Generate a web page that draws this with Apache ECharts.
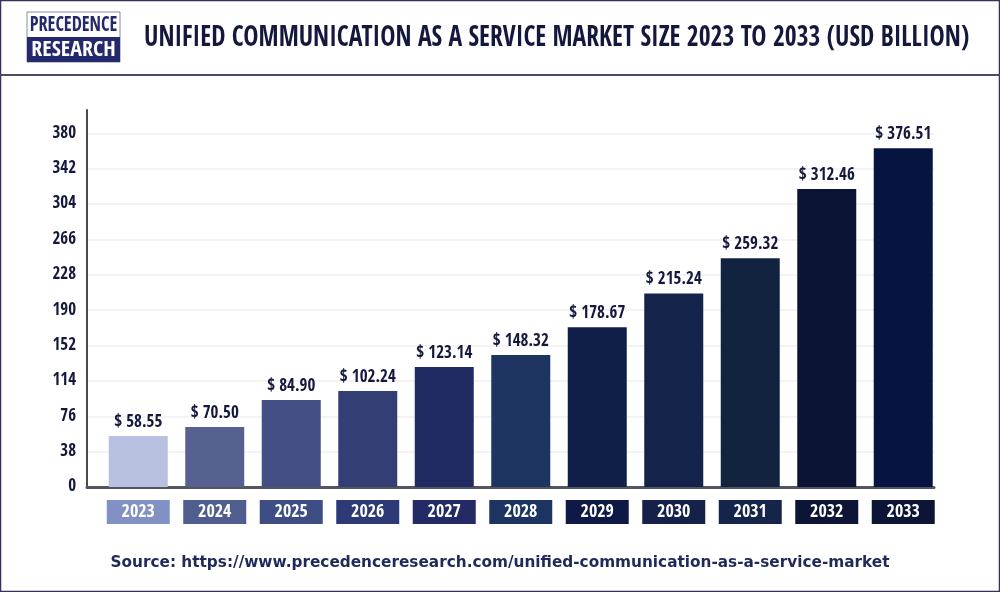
<!DOCTYPE html>
<html>
<head>
<meta charset="utf-8">
<style>html,body{margin:0;padding:0;background:#fff}#main{width:1000px;height:592px}</style>
<script src="https://cdn.jsdelivr.net/npm/echarts@6/dist/echarts.min.js"></script>
</head>
<body>
<div id="main"></div>
<script>
var years = ['2023','2024','2025','2026','2027','2028','2029','2030','2031','2032','2033'];
// bar heights as they sit against the axis in the picture
var barValues = [54.7,64.4,93.4,103,128.8,141.7,171.7,208,245.8,320,364];
// printed labels, they do not quite agree with the bar heights
var printedValues = ['58.55','70.50','84.90','102.24','123.14','148.32','178.67','215.24','259.32','312.46','376.51'];
var barColors = ['#b8c2e0','#56618f','#434f85','#333e75','#202a63','#1e3461','#101f4a','#13234a','#12233f','#0c1436','#061442'];
var boxColors = ['#8291c3','#4f5d8f','#3f4d85','#2e3a75','#232a66','#1d3461','#0e1a45','#14224a','#14244a','#0c1536','#0c1536'];

var condensed = '"Open Sans Condensed"';
var rich = {};
boxColors.forEach(function (c, i) {
  rich['y' + i] = {
    backgroundColor: c, color: '#fff', width: 63, height: 24, lineHeight: 24, align: 'center',
    fontFamily: condensed, fontWeight: 'bold', fontSize: 18
  };
});

var chart = echarts.init(document.getElementById('main'));
chart.setOption({
  animation: false,
  graphic: [
    { type: 'rect', shape: { x: 0.5, y: 0.5, width: 999, height: 591 }, style: { fill: 'none', stroke: '#33335a', lineWidth: 1.5 } },
    { type: 'rect', shape: { x: 0, y: 74, width: 1000, height: 2 }, style: { fill: '#4a4a6a' } },
    { type: 'rect', shape: { x: 27, y: 12, width: 93, height: 50 }, style: { fill: '#fff', stroke: '#8a8a9a', lineWidth: 1 } },
    { type: 'rect', shape: { x: 27, y: 37, width: 93, height: 25 }, style: { fill: '#23296a' } },
    { type: 'text', x: 73.5, y: 26, scaleX: 0.87, style: { text: 'PRECEDENCE', fill: '#23296a', font: 'bold 21px ' + condensed, align: 'center', verticalAlign: 'middle' } },
    { type: 'text', x: 73.5, y: 51, scaleX: 1.05, style: { text: 'RESEARCH', fill: '#fff', font: 'bold 21px ' + condensed, align: 'center', verticalAlign: 'middle' } },
    { type: 'text', x: 144, y: 39, scaleX: 0.915, style: { text: 'UNIFIED COMMUNICATION AS A SERVICE MARKET SIZE 2023 TO 2033 (USD BILLION)', fill: '#14183c', font: 'bold 28px ' + condensed, verticalAlign: 'middle' } },
    { type: 'text', x: 500, y: 563, style: { text: 'Source: https://www.precedenceresearch.com/unified-communication-as-a-service-market', fill: '#1f2a5a', font: 'bold 15.3px "DejaVu Sans"', align: 'center', verticalAlign: 'middle' } }
  ],
  // first grid holds the axes and gridlines, second is inset so the bars clear the y axis
  grid: [
    { left: 87, top: 110, width: 847, height: 377 },
    { left: 100, top: 110, width: 841.5, height: 377 }
  ],
  xAxis: [
    { gridIndex: 0, type: 'category', data: [], axisLine: { lineStyle: { color: '#55555f', width: 3 } }, axisTick: { show: false }, axisLabel: { show: false } },
    {
      gridIndex: 1, type: 'category', data: years,
      axisLine: { show: false }, axisTick: { show: false },
      axisLabel: {
        margin: 13, interval: 0,
        formatter: function (v) { return '{y' + years.indexOf(v) + '|' + v + '}'; },
        rich: rich
      }
    }
  ],
  yAxis: [
    {
      gridIndex: 0, type: 'value', min: 0, max: 405, interval: 38,
      axisLine: { show: true, lineStyle: { color: '#4a4a4a', width: 2 } }, axisTick: { show: false },
      axisLabel: { margin: 11, color: '#14183c', fontFamily: condensed, fontWeight: 'bold', fontSize: 17, showMaxLabel: false },
      splitLine: { lineStyle: { color: '#efefef', width: 1.5 }, showMaxLine: false }
    },
    { gridIndex: 1, type: 'value', min: 0, max: 405, show: false, splitLine: { show: false } }
  ],
  series: [{
    type: 'bar', xAxisIndex: 1, yAxisIndex: 1, barWidth: 59, data: barValues,
    itemStyle: { color: function (p) { return barColors[p.dataIndex]; } },
    label: {
      show: true, position: 'top', distance: 5, color: '#14183c',
      fontFamily: condensed, fontWeight: 'bold', fontSize: 17,
      formatter: function (p) { return '$ ' + printedValues[p.dataIndex]; }
    }
  }]
});
</script>
</body>
</html>
